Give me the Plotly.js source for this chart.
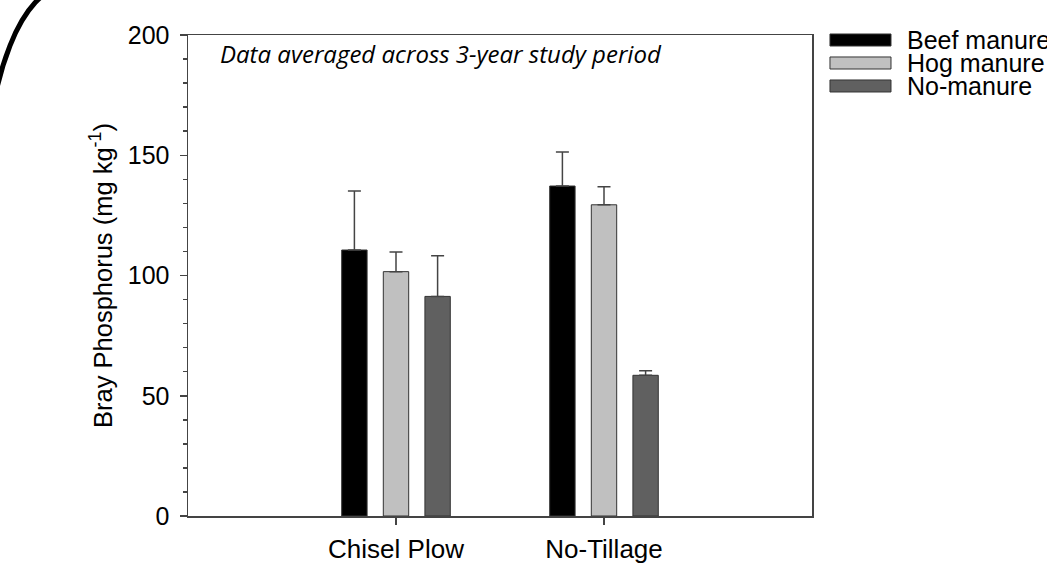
<!DOCTYPE html>
<html>
<head>
<meta charset="utf-8">
<script src="https://cdn.plot.ly/plotly-3.0.1.min.js"></script>
<style>html,body{margin:0;padding:0;background:#fff;}#chart{width:1047px;height:565px;}</style>
</head>
<body>
<div id="chart"></div>
<script>
// ---- data ----
var categories = ['Chisel Plow', 'No-Tillage'];
var seriesNames = ['Beef manure', 'Hog manure', 'No-manure'];
var beefValues = [110.6, 137.2];
var beefErrors = [24.5, 14.2];
var hogValues = [101.6, 129.4];
var hogErrors = [8.2, 7.5];
var noManureValues = [91.3, 58.5];
var noManureErrors = [16.9, 1.9];
var yTickValues = [0, 50, 100, 150, 200];
var noteText = 'Data averaged across 3-year study period';

var seriesValues = [beefValues, hogValues, noManureValues];
var seriesErrors = [beefErrors, hogErrors, noManureErrors];
var seriesColors = ['#000000', '#c0c0c0', '#606060'];

var FONT = 'Liberation Sans, Arial, sans-serif';
var traces = seriesNames.map(function (name, i) {
  return {
    type: 'bar',
    name: name,
    x: categories,
    y: seriesValues[i],
    marker: {color: seriesColors[i], line: {color: '#333333', width: 1}},
    error_y: {type: 'data', array: seriesErrors[i], arrayminus: [0, 0], symmetric: false,
              color: '#444444', thickness: 1.5, width: 6.5},
    showlegend: false
  };
});

// custom legend (wide swatches) in paper coordinates
var shapes = [];
var annotations = [];
var legX0 = 1.0288, legX1 = 1.1266, legTextX = 1.149;
var legY = [0.9896, 0.9418, 0.894];
var swH = 0.0125;
seriesNames.forEach(function (name, i) {
  shapes.push({type: 'rect', xref: 'paper', yref: 'paper',
    x0: legX0, x1: legX1, y0: legY[i] - swH, y1: legY[i] + swH,
    fillcolor: seriesColors[i], line: {color: '#333333', width: 1}});
  annotations.push({xref: 'paper', yref: 'paper', x: legTextX, y: legY[i],
    xanchor: 'left', yanchor: 'middle', text: name, showarrow: false,
    font: {family: FONT, size: 25, color: '#000'}});
});
annotations.push({xref: 'paper', yref: 'paper', x: 0.048, y: 0.962,
  xanchor: 'left', yanchor: 'middle', text: '<i>' + noteText + '</i>', showarrow: false,
  font: {family: 'Open Sans, sans-serif', size: 24, color: '#000'}});

// decorative corner arc
shapes.push({type: 'path', xref: 'paper', yref: 'paper',
  path: 'M -0.32244 0.68316 C -0.32244 0.91351 -0.26554 1.10021 -0.19551 1.10021',
  line: {color: '#000', width: 5}});

var layout = {
  width: 1047, height: 565,
  margin: {l: 188, r: 235, t: 35, b: 49},
  paper_bgcolor: '#fff', plot_bgcolor: '#fff',
  barmode: 'group', bargap: 0.4, bargroupgap: 0.39,
  showlegend: false,
  font: {family: FONT, color: '#000'},
  xaxis: {
    type: 'category', range: [-1, 2],
    showline: true, linecolor: '#444', linewidth: 1.5, mirror: true,
    ticks: 'outside', ticklen: 7, tickcolor: '#444', tickwidth: 1.5,
    showgrid: false, zeroline: false,
    tickfont: {family: FONT, size: 26, color: '#000'},
    ticklabelstandoff: 2
  },
  yaxis: {
    range: [0, 200], tickvals: yTickValues,
    showline: true, linecolor: '#444', linewidth: 1.5, mirror: true,
    ticks: 'outside', ticklen: 7, tickcolor: '#444', tickwidth: 1.5,
    minor: {dtick: 10, ticks: 'outside', ticklen: 4, tickcolor: '#444', tickwidth: 1.5, showgrid: false},
    showgrid: false, zeroline: false,
    tickfont: {family: FONT, size: 25, color: '#000'},
    ticklabelstandoff: 5,
    title: {text: 'Bray Phosphorus (mg kg<sup>-1</sup>)', font: {family: FONT, size: 25.5, color: '#000'}, standoff: 8}
  },
  shapes: shapes,
  annotations: annotations
};

Plotly.newPlot('chart', traces, layout, {displayModeBar: false, staticPlot: true});
</script>
</body>
</html>
